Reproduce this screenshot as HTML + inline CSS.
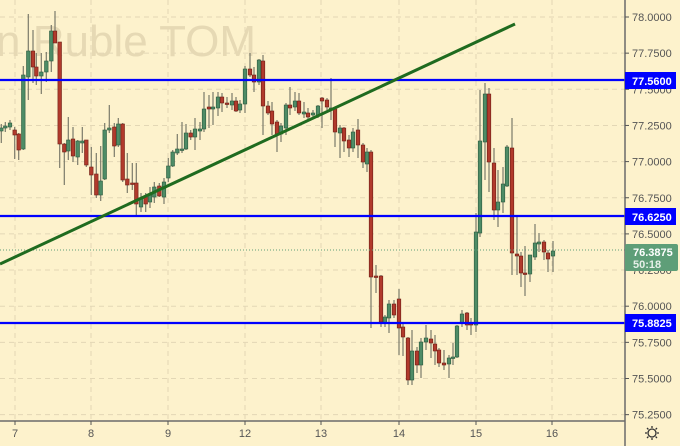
<!DOCTYPE html>
<html><head><meta charset="utf-8"><style>
html,body{margin:0;padding:0;background:#fdf2cc;}
svg{display:block;}
text{font-family:"Liberation Sans",sans-serif;}
</style></head><body>
<svg id="c" width="680" height="446" xmlns="http://www.w3.org/2000/svg">
<rect width="680" height="446" fill="#fdf2cc"/>
<g id="grid" stroke="#e3d7b5" stroke-width="1" stroke-dasharray="5,4"></g>
<text x="-4" y="56" font-size="44" fill="#e6d9b4">n Ruble TOM</text>
<g id="candles"></g>
<line x1="0" y1="250" x2="625" y2="250" stroke="#5e9e78" stroke-width="1" stroke-dasharray="1,2"/>
<line x1="0" y1="80" x2="625" y2="80" stroke="#0000ff" stroke-width="2.2"/>
<line x1="0" y1="216" x2="625" y2="216" stroke="#0000ff" stroke-width="2.2"/>
<line x1="0" y1="323" x2="625" y2="323" stroke="#0000ff" stroke-width="2.2"/>
<line x1="0" y1="264" x2="515" y2="24" stroke="#1f6b1f" stroke-width="3"/>
<rect x="625" y="0" width="55" height="446" fill="#fdf2cc"/>
<line x1="625" y1="0" x2="625" y2="446" stroke="#6b6b6b" stroke-width="1.5"/>
<line x1="0" y1="421" x2="625" y2="421" stroke="#6b6b6b" stroke-width="1.5"/>
<g id="axis" font-size="11" fill="#555"></g>
<rect x="625" y="72" width="51" height="17" fill="#0000ff"/>
<text x="632" y="85" font-size="11" font-weight="bold" fill="#fff">77.5600</text>
<rect x="625" y="208" width="51" height="17" fill="#0000ff"/>
<text x="632" y="221" font-size="11" font-weight="bold" fill="#fff">76.6250</text>
<rect x="625" y="314" width="51" height="18" fill="#0000ff"/>
<text x="632" y="327" font-size="11" font-weight="bold" fill="#fff">75.8825</text>
<rect x="625" y="244" width="53" height="27" fill="#5e9e78" rx="2"/>
<text x="633" y="256" font-size="11" font-weight="bold" fill="#fff">76.3875</text>
<text x="633" y="268" font-size="11" font-weight="bold" fill="#e6f0e8">50:18</text>
<g stroke="#333" stroke-width="1.3" fill="none"><circle cx="652" cy="433" r="4"/>
<path d="M652 426v2M652 438v2M645 433h2M657 433h2M647 428l1.4 1.4M655.6 436.6l1.4 1.4M647 438l1.4-1.4M655.6 429.4l1.4-1.4"/></g>
</svg>
<script>
var NS="http://www.w3.org/2000/svg";
function el(p,t,a,txt){var e=document.createElementNS(NS,t);for(var k in a)e.setAttribute(k,a[k]);if(txt)e.textContent=txt;p.appendChild(e);return e;}
var grid=document.getElementById('grid'),axis=document.getElementById('axis');
var days=[[15,'7'],[91,'8'],[168,'9'],[245,'12'],[321,'13'],[399,'14'],[476,'15'],[552,'16']];
days.forEach(function(d){el(grid,'line',{x1:d[0],y1:0,x2:d[0],y2:421});
 el(axis,'line',{x1:d[0],y1:421,x2:d[0],y2:425,stroke:'#555'});
 el(axis,'text',{x:d[0],y:437,'text-anchor':'middle'},d[1]);});
var labs=['78.0000','77.7500','77.5000','77.2500','77.0000','76.7500','76.5000','76.2500','76.0000','75.7500','75.5000','75.2500'];
labs.forEach(function(l,i){var y=17+i*36.15;el(grid,'line',{x1:0,y1:y,x2:625,y2:y});
 el(axis,'line',{x1:625,y1:y,x2:629,y2:y,stroke:'#555'});
 el(axis,'text',{x:632,y:y+4},l);});
var C=[
[1.3,'g',128,131,124,143],[5.3,'g',126,128,122,132],[10,'g',123,127,120,130],[14.7,'r',130,135,127,159],[18.7,'r',134,150,133,160],
[23.3,'g',75,149,66,150],[28.3,'g',51,77,14,100],[33,'r',51,67,30,83],[36.3,'r',67,76,53,85],[41.3,'g',72,76,53,94],
[46.3,'g',61,72,52,82],[51.3,'g',31,61,25,72],[55,'r',31,43,11,43],[59.7,'r',42,144,42,168],[64.3,'r',144,152,143,185],
[68.3,'g',140,151,117,160],[73,'r',139,156,127,162],[77.7,'g',141,157,140,165],[82.3,'g',141,143,127,153],[86.3,'r',140,165,140,167],
[91.3,'r',167,175,147,195],[96.3,'r',174,195,153,198],[100.7,'g',181,195,146,201],[104.7,'g',130,179,123,180],[109.3,'g',128,130,105,133],
[114.3,'r',127,146,123,157],[118.3,'g',124,145,118,147],[122.7,'r',124,180,123,182],[127.3,'r',179,185,153,193],[132.3,'r',183,184,163,190],
[136.3,'r',183,204,163,215],[141,'g',198,207,193,212],[145.7,'r',197,204,193,212],[150,'g',195,202,187,208],[154.3,'g',187,197,182,203],
[159.3,'r',186,196,183,197],[164,'g',182,197,178,204],[168.3,'g',166,178,158,182],[172.7,'g',152,166,150,167],[177.3,'g',149,153,134,155],
[182,'g',149,150,122,153],[186,'g',133,149,124,150],[190.7,'r',133,137,130,140],
[195,'g',129,137,118,150],[200,'g',129,131,122,140],[204,'g',109,129,92,132],[209,'r',107,109,95,128],[213,'g',107,109,92,125],
[218,'g',97,108,92,116],[222,'r',97,103,93,112],[227,'r',103,104,97,108],[232,'g',101,105,93,110],[236,'r',101,111,97,112],
[240,'g',104,110,100,113],[245,'g',69,104,66,113],[250,'r',69,75,53,77],[254,'r',75,82,67,92],[259,'g',60,82,59,85],
[263,'r',61,106,55,135],[268,'r',106,113,101,115],[272,'r',111,124,102,135],[277,'r',122,134,120,152],[281,'g',126,134,123,142],
[286,'g',105,128,103,135],[290,'r',105,108,87,115],[295,'g',101,107,92,111],[299,'r',101,113,93,115],[304,'g',112,114,102,118],
[308,'r',113,117,108,120],[313,'g',113,115,110,117],[318,'g',106,116,105,118],[322,'r',98,101,97,128],[327,'r',100,107,98,110],
[331,'g',108,110,78,120],[335,'r',109,132,107,147],[340,'g',128,133,125,158],[344,'r',128,141,127,152],[349,'r',140,148,135,157],
[353,'g',132,148,128,152],[358,'r',130,145,119,158],[363,'r',145,162,143,168],[367,'g',152,164,148,172],
[371,'r',152,277,150,328],[376,'r',276,277,265,293],[381,'r',276,322,275,327],[385,'g',317,323,315,327],[389,'g',304,318,300,333],
[394,'r',304,315,300,318],[399,'r',299,328,289,355],[403,'r',327,337,323,356],[408,'r',338,380,337,385],[412,'g',351,380,330,385],
[417,'r',351,365,347,373],[421,'g',342,365,338,378],[426,'g',338,342,325,350],[431,'r',339,343,330,358],[435,'r',344,351,335,365],
[439,'r',350,363,348,367],[444,'r',363,365,350,370],[449,'g',358,364,355,378],[453,'g',357,358,343,365],[457,'g',326,357,325,358],
[462,'g',314,323,310,327],[467,'r',313,325,312,330],[471,'r',323,325,318,335],[476,'g',232,325,213,332],[480,'g',141,233,90,237],
[485,'g',94,142,83,180],[489,'r',94,162,88,192],[494,'r',163,210,148,220],[498,'g',202,210,170,227],[503,'g',184,202,167,213],
[507,'g',147,186,145,187],[512,'r',148,253,118,275],[517,'r',254,256,217,275],[521,'r',256,273,252,287],[525,'r',273,274,246,296],
[530,'g',255,274,255,282],[535,'g',243,257,224,260],[539,'g',242,244,233,252],[544,'r',242,252,240,260],[548,'r',253,259,250,272],
[553,'g',251,256,241,272]];
var g=document.getElementById('candles');
C.forEach(function(c){var x=c[0],col=c[1]=='g'?'#4e8c66':'#b13a2c',st=c[1]=='g'?'#2c5a3e':'#6e1f16';
 el(g,'line',{x1:x,y1:c[4],x2:x,y2:c[5],stroke:'#7a7a6a','stroke-width':1.2});
 el(g,'rect',{x:x-1.8,y:c[2],width:3.6,height:Math.max(1.5,c[3]-c[2]),fill:col,stroke:st,'stroke-width':0.6});});
</script>
</body></html>
